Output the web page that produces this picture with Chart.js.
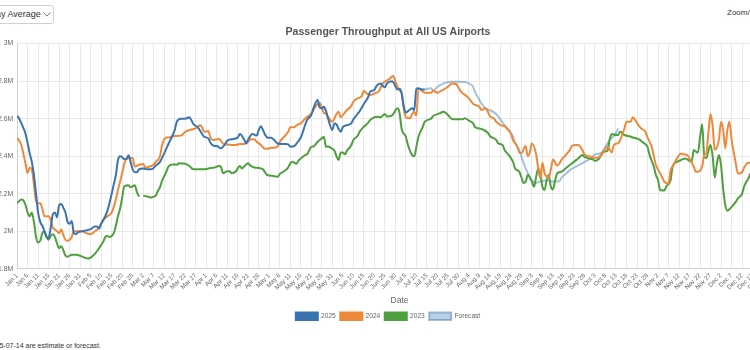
<!DOCTYPE html>
<html>
<head>
<meta charset="utf-8">
<script src="https://cdn.jsdelivr.net/npm/chart.js@4"></script>
<style>
  html, body { margin:0; padding:0; background:#fff; width:750px; height:350px; overflow:hidden; position:relative; font-family:'Liberation Sans', Arial, Helvetica, sans-serif; }
  #c { position:absolute; left:-12px; top:0; }
  #sel { position:absolute; left:-28px; top:5px; width:82px; height:19px; box-sizing:border-box; border:1px solid #d0d0d0; border-radius:3px; font-size:9px; color:#333; line-height:17px; padding-left:10px; white-space:nowrap; }
  #sel svg { position:absolute; left:70px; top:6px; }
  #zoom { position:absolute; left:727px; top:8px; font-size:8px; color:#333; white-space:nowrap; }
  #foot { position:absolute; left:-51px; top:342px; font-size:7px; color:#333; white-space:nowrap; }
</style>
</head>
<body>
<div id="sel">7-day Average<svg width="8" height="5" viewBox="0 0 8 5"><polyline points="0.5,0.5 4,4 7.5,0.5" fill="none" stroke="#777" stroke-width="1"/></svg></div>
<div id="zoom">Zoom/Pan</div>
<canvas id="c" width="796" height="334"></canvas>
<div id="foot">Values after 2025-07-14 are estimate or forecast.</div>
<script>
// ---- data (day of year index, millions of passengers, 7-day average) ----
const seriesNames = ['2025', '2024', '2023', 'Forecast'];

const tickLabels = ['Jan 1','Jan 6','Jan 11','Jan 16','Jan 21','Jan 26','Jan 31','Feb 5','Feb 10','Feb 15','Feb 20','Feb 25',
  'Mar 2','Mar 7','Mar 12','Mar 17','Mar 22','Mar 27','Apr 1','Apr 6','Apr 11','Apr 16','Apr 21','Apr 26',
  'May 1','May 6','May 11','May 16','May 21','May 26','May 31','Jun 5','Jun 10','Jun 15','Jun 20','Jun 25','Jun 30',
  'Jul 5','Jul 10','Jul 15','Jul 20','Jul 25','Jul 30','Aug 4','Aug 9','Aug 14','Aug 19','Aug 24','Aug 29',
  'Sep 3','Sep 8','Sep 13','Sep 18','Sep 23','Sep 28','Oct 3','Oct 8','Oct 13','Oct 18','Oct 23','Oct 28',
  'Nov 2','Nov 7','Nov 12','Nov 17','Nov 22','Nov 27','Dec 2','Dec 7','Dec 12','Dec 17','Dec 22','Dec 27'];

const yTicks = [1.8, 2.0, 2.2, 2.4, 2.6, 2.8, 3.0];

const series2025 = [[0,2.615],[1,2.60],[3,2.55],[4,2.52],[5,2.47],[6,2.415],[7,2.37],[8,2.30],[9,2.20],[10,2.10],[11,2.05],[12,2.03],[13,2.00],[14,1.97],[15,1.965],[16,2.02],[17,2.09],[18,2.10],[19,2.075],[20,2.14],[21,2.145],[22,2.125],[23,2.10],[24,2.05],[25,2.04],[26,2.055],[27,1.99],[28,1.985],[29,1.995],[31,2.00],[33,2.005],[35,2.012],[37,2.025],[38,2.025],[39,2.015],[40,2.04],[41,2.06],[43,2.11],[45,2.20],[46,2.25],[47,2.30],[48,2.38],[49,2.40],[50,2.395],[51,2.385],[52,2.385],[53,2.405],[54,2.37],[55,2.33],[56,2.315],[57,2.315],[58,2.33],[60,2.335],[62,2.33],[64,2.33],[66,2.35],[68,2.37],[70,2.415],[72,2.465],[75,2.54],[76,2.584],[78,2.60],[80,2.60],[82,2.607],[83,2.59],[84,2.57],[86,2.554],[88,2.52],[89,2.504],[91,2.495],[92,2.472],[94,2.454],[95,2.454],[97,2.442],[99,2.465],[100,2.483],[102,2.49],[105,2.50],[106,2.518],[108,2.49],[109,2.468],[110,2.49],[112,2.518],[114,2.51],[115,2.54],[116,2.56],[117,2.54],[118,2.515],[119,2.50],[121,2.498],[122,2.49],[124,2.468],[126,2.465],[128,2.465],[129,2.463],[130,2.45],[132,2.455],[133,2.468],[135,2.50],[136,2.53],[137,2.565],[138,2.593],[140,2.62],[141,2.655],[143,2.70],[144,2.66],[145,2.655],[146,2.664],[147,2.64],[148,2.60],[150,2.54],[151,2.575],[152,2.57],[153,2.545],[154,2.53],[155,2.555],[157,2.566],[159,2.575],[160,2.596],[162,2.625],[163,2.64],[165,2.678],[167,2.714],[168,2.744],[170,2.753],[171,2.774],[173,2.788],[174,2.775],[175,2.767],[176,2.788],[178,2.80],[179,2.795],[181,2.756],[182,2.76],[183,2.735],[184,2.664],[185,2.632],[186,2.64],[188,2.655],[189,2.645],[190,2.76],[191,2.762],[192,2.758],[193,2.755],[194,2.755]];

const series2024 = [[0,2.50],[2,2.46],[4,2.36],[5,2.31],[6,2.34],[7,2.33],[8,2.25],[9,2.16],[10,2.15],[11,2.15],[12,2.12],[13,2.08],[15,2.08],[16,2.06],[17,2.02],[18,2.01],[19,2.00],[20,1.99],[21,2.01],[22,1.98],[23,1.955],[24,1.95],[25,1.955],[26,1.97],[27,2.00],[29,2.00],[31,2.00],[33,1.99],[35,1.985],[37,2.00],[39,2.02],[41,2.06],[43,2.08],[45,2.10],[46,2.13],[47,2.17],[48,2.22],[50,2.31],[51,2.36],[52,2.385],[54,2.39],[55,2.39],[56,2.345],[58,2.355],[60,2.358],[61,2.34],[63,2.345],[65,2.355],[66,2.37],[68,2.40],[69,2.46],[71,2.50],[72,2.50],[75,2.508],[78,2.51],[80,2.53],[82,2.54],[84,2.545],[86,2.554],[87,2.566],[88,2.554],[89,2.53],[91,2.535],[92,2.50],[93,2.486],[95,2.49],[96,2.493],[98,2.468],[99,2.465],[102,2.46],[104,2.46],[106,2.465],[108,2.465],[110,2.477],[111,2.49],[113,2.49],[114,2.477],[116,2.46],[118,2.44],[119,2.44],[121,2.445],[122,2.445],[124,2.452],[125,2.477],[127,2.503],[129,2.53],[130,2.554],[132,2.555],[133,2.566],[135,2.575],[137,2.60],[140,2.628],[142,2.664],[144,2.685],[145,2.66],[146,2.63],[147,2.628],[148,2.61],[150,2.584],[152,2.625],[153,2.637],[154,2.607],[155,2.62],[157,2.646],[159,2.667],[160,2.69],[162,2.708],[164,2.72],[165,2.749],[166,2.738],[168,2.726],[170,2.735],[172,2.744],[174,2.788],[175,2.797],[177,2.81],[179,2.828],[180,2.80],[181,2.77],[182,2.75],[183,2.735],[184,2.655],[185,2.607],[187,2.602],[188,2.625],[189,2.637],[190,2.615],[191,2.76],[192,2.755],[194,2.738],[197,2.738],[198,2.75],[200,2.738],[202,2.75],[203,2.755],[205,2.77],[206,2.78],[207,2.788],[209,2.785],[210,2.765],[212,2.735],[213,2.728],[215,2.708],[217,2.68],[218,2.673],[220,2.664],[221,2.646],[223,2.655],[224,2.637],[225,2.614],[227,2.60],[228,2.584],[230,2.566],[232,2.56],[233,2.548],[235,2.52],[236,2.486],[238,2.454],[239,2.42],[240,2.417],[242,2.454],[243,2.40],[244,2.42],[245,2.468],[247,2.41],[248,2.335],[249,2.282],[250,2.365],[251,2.31],[253,2.287],[254,2.33],[255,2.383],[257,2.35],[258,2.36],[259,2.38],[261,2.405],[263,2.433],[264,2.454],[266,2.46],[267,2.46],[269,2.433],[270,2.41],[272,2.40],[274,2.393],[275,2.39],[278,2.405],[280,2.44],[281,2.45],[283,2.42],[284,2.46],[286,2.47],[287,2.486],[289,2.548],[290,2.584],[292,2.584],[293,2.607],[294,2.595],[296,2.56],[297,2.548],[299,2.53],[300,2.50],[302,2.45],[304,2.353],[305,2.33],[307,2.287],[308,2.264],[310,2.255],[311,2.326],[312,2.345],[314,2.388],[316,2.415],[317,2.41],[319,2.406],[320,2.388],[322,2.345],[323,2.317],[324,2.317],[326,2.345],[327,2.406],[328,2.415],[329,2.53],[330,2.625],[331,2.56],[332,2.433],[334,2.49],[335,2.584],[336,2.54],[337,2.442],[338,2.54],[339,2.584],[340,2.49],[342,2.362],[343,2.308],[345,2.315],[346,2.34],[348,2.365],[349,2.362]];

const series2023 = [[0,2.15],[2,2.17],[3,2.165],[4,2.14],[5,2.10],[6,2.08],[7,2.10],[8,2.05],[9,1.97],[10,1.94],[11,1.95],[12,1.99],[13,2.00],[14,1.97],[15,1.955],[16,1.975],[17,1.985],[18,1.97],[19,1.935],[20,1.91],[21,1.92],[22,1.90],[23,1.87],[24,1.865],[26,1.875],[28,1.875],[30,1.87],[32,1.86],[34,1.855],[35,1.86],[37,1.88],[39,1.91],[41,1.945],[42,1.97],[43,1.975],[44,1.97],[45,1.975],[46,1.99],[47,2.03],[48,2.08],[49,2.12],[50,2.18],[51,2.24],[53,2.245],[54,2.235],[55,2.24],[56,2.245],[57,2.21],[58,2.185],[59,null],[60,2.19],[62,2.185],[64,2.18],[65,2.185],[66,2.19],[67,2.215],[68,2.235],[69,2.27],[71,2.317],[72,2.345],[74,2.356],[76,2.355],[77,2.362],[80,2.36],[82,2.348],[84,2.33],[87,2.33],[89,2.33],[91,2.335],[94,2.34],[96,2.348],[97,2.343],[98,2.31],[99,2.315],[100,2.32],[101,2.32],[102,2.31],[104,2.318],[106,2.348],[107,2.335],[108,2.345],[110,2.362],[111,2.35],[113,2.34],[115,2.337],[117,2.33],[119,2.30],[122,2.295],[124,2.29],[125,2.305],[127,2.32],[129,2.34],[130,2.362],[131,2.37],[133,2.36],[134,2.378],[136,2.397],[137,2.406],[138,2.41],[140,2.45],[141,2.452],[143,2.477],[145,2.495],[146,2.504],[147,2.45],[148,2.452],[150,2.44],[151,2.43],[152,2.40],[153,2.38],[154,2.42],[155,2.42],[156,2.41],[157,2.43],[159,2.458],[160,2.486],[162,2.508],[163,2.53],[165,2.557],[167,2.578],[168,2.593],[170,2.607],[171,2.61],[173,2.607],[175,2.625],[176,2.612],[178,2.614],[179,2.625],[181,2.655],[182,2.63],[183,2.545],[185,2.504],[186,2.46],[188,2.406],[189,2.40],[190,2.45],[191,2.504],[193,2.555],[194,2.584],[197,2.60],[198,2.614],[201,2.628],[203,2.637],[205,2.62],[206,2.607],[207,2.598],[209,2.597],[212,2.597],[213,2.602],[215,2.59],[217,2.575],[218,2.554],[220,2.548],[222,2.54],[224,2.525],[225,2.508],[228,2.487],[229,2.468],[231,2.46],[232,2.433],[234,2.406],[236,2.37],[237,2.335],[239,2.317],[240,2.287],[241,2.258],[242,2.263],[243,2.30],[245,2.263],[246,2.237],[247,2.29],[248,2.335],[249,2.30],[250,2.237],[251,2.22],[252,2.273],[253,2.30],[254,2.237],[255,2.223],[256,2.27],[257,2.308],[259,2.317],[261,2.335],[263,2.353],[265,2.37],[267,2.388],[269,2.406],[270,2.397],[272,2.388],[274,2.383],[275,2.375],[277,2.388],[279,2.424],[281,2.43],[282,2.49],[283,2.518],[285,2.513],[286,2.513],[287,2.53],[289,2.513],[291,2.508],[293,2.50],[296,2.49],[298,2.472],[300,2.45],[301,2.406],[303,2.344],[304,2.30],[305,2.273],[306,2.22],[308,2.217],[309,2.24],[311,2.273],[312,2.348],[314,2.37],[316,2.38],[318,2.388],[320,2.375],[321,2.37],[322,2.433],[323,2.425],[324,2.42],[325,2.50],[326,2.57],[327,2.40],[328,2.39],[329,2.43],[330,2.46],[331,2.40],[332,2.287],[333,2.36],[334,2.406],[335,2.35],[336,2.228],[337,2.14],[338,2.11],[340,2.13],[342,2.157],[343,2.175],[345,2.20],[346,2.24],[348,2.282],[349,2.308]];

const seriesForecast = [[194,2.755],[197,2.762],[198,2.75],[200,2.77],[202,2.783],[204,2.792],[207,2.797],[210,2.797],[213,2.795],[215,2.788],[217,2.77],[218,2.74],[220,2.70],[221,2.68],[223,2.655],[225,2.645],[228,2.625],[230,2.595],[232,2.566],[234,2.54],[236,2.504],[237,2.468],[239,2.433],[240,2.397],[242,2.335],[244,2.29],[245,2.273],[247,2.258],[248,2.262],[251,2.27],[253,2.27],[255,2.265],[258,2.267],[259,2.285],[261,2.305],[263,2.326],[266,2.345],[268,2.356],[270,2.37],[273,2.388],[275,2.408],[278,2.418],[280,2.45],[282,2.485],[285,2.522],[286,2.548]];

// ---- chart ----
const F = "'Liberation Sans', Arial, Helvetica, sans-serif";
const colors = ['#3a74b0', '#f0883a', '#4e9f3d', 'rgba(58,117,176,0.45)'];
const fills  = ['#3a74b0', '#f0883a', '#4e9f3d', 'rgba(58,117,176,0.35)'];
const allSeries = [series2025, series2024, series2023, seriesForecast];
const toPts = s => s.map(([x, y]) => ({x, y}));

new Chart(document.getElementById('c'), {
  type: 'line',
  data: {
    datasets: allSeries.map((s, i) => ({
      label: seriesNames[i],
      data: toPts(s),
      borderColor: colors[i],
      backgroundColor: fills[i],
      borderWidth: 2,
      pointRadius: 0,
      cubicInterpolationMode: 'monotone',
      spanGaps: false,
      fill: false
    }))
  },
  options: {
    responsive: false,
    animation: false,
    layout: { padding: { left: 6, right: 2, top: 0, bottom: 4 } },
    plugins: {
      title: { display: true, text: 'Passenger Throughput at All US Airports', color: '#555',
               font: { size: 10.5, weight: 'bold', family: F }, padding: { top: 26, bottom: 5 } },
      legend: { position: 'bottom',
                labels: { boxWidth: 22, boxHeight: 7.5, padding: 4.5, color: '#666', font: { size: 6.6, family: F } } },
      tooltip: { enabled: false }
    },
    scales: {
      x: {
        type: 'linear', min: 0, max: 364,
        title: { display: true, text: 'Date', color: '#666', font: { size: 8.5, family: F }, padding: { top: 1, bottom: 2 } },
        ticks: { stepSize: 5, autoSkip: false, includeBounds: false, minRotation: 45, maxRotation: 45,
                 color: '#666', font: { size: 6.3, family: F }, padding: 3,
                 callback: v => tickLabels[Math.round(v / 5)] },
        grid: { color: '#e9e9e9', drawTicks: false },
        border: { color: '#d0d0d0' }
      },
      y: {
        min: 1.8, max: 3.0,
        afterBuildTicks: axis => { axis.ticks = yTicks.map(v => ({ value: v })); },
        ticks: { color: '#666', font: { size: 6.8, family: F }, padding: 4,
                 callback: v => (Math.round(v * 10) / 10) + 'M' },
        grid: { color: '#e9e9e9', drawTicks: false },
        border: { color: '#d0d0d0' }
      }
    }
  }
});
</script>
</body>
</html>
